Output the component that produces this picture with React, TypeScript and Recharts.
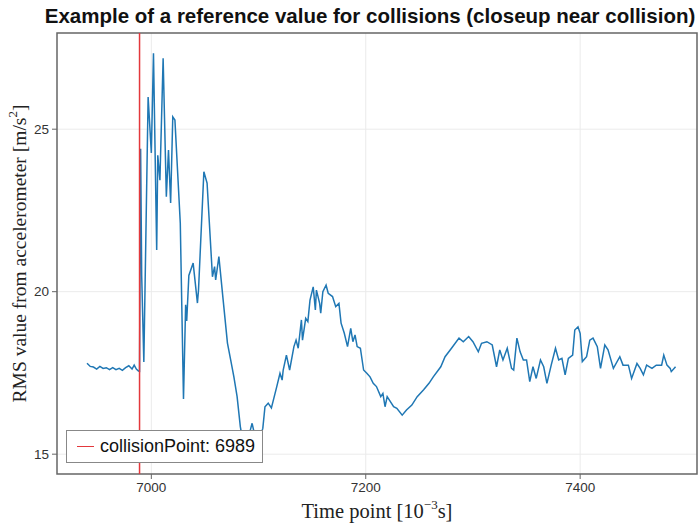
import React from 'react';
import { LineChart, Line, XAxis, YAxis, CartesianGrid, ReferenceLine, ReferenceArea, Label } from 'recharts';

const TITLE = 'Example of a reference value for collisions (closeup near collision)';
const COLLISION_POINT = 6989;

const X_DOMAIN: [number, number] = [6912, 7509];
const Y_DOMAIN: [number, number] = [14.39, 27.96];
const X_TICKS = [7000, 7200, 7400];
const Y_TICKS = [15, 20, 25];

// time points [ms]
const timePoints = [
  6940, 6943, 6946, 6949, 6952, 6955, 6958, 6961, 6964, 6967, 6970, 6973, 6976, 6979, 6982, 6984, 6986, 6988,
  6989, 6990, 6991, 6993, 6997, 7000, 7002, 7005, 7006, 7008, 7011, 7014, 7016, 7018, 7020, 7022, 7027, 7030,
  7032, 7033, 7035, 7039, 7043, 7044, 7049, 7052, 7057, 7059, 7060, 7063, 7067, 7071, 7074, 7077, 7080, 7083,
  7086, 7089, 7092, 7094, 7097, 7100, 7104, 7106, 7109, 7112, 7117, 7120, 7122, 7123, 7126, 7129, 7133, 7135,
  7137, 7140, 7141, 7144, 7146, 7148, 7151, 7153, 7154, 7157, 7158, 7160, 7163, 7165, 7169, 7172, 7175, 7177,
  7180, 7183, 7186, 7188, 7190, 7192, 7195, 7198, 7201, 7204, 7207, 7210, 7214, 7216, 7218, 7220, 7226, 7229,
  7234, 7238, 7243, 7248, 7254, 7259, 7263, 7270, 7274, 7280, 7287, 7291, 7296, 7300, 7305, 7308, 7313, 7318,
  7322, 7325, 7328, 7332, 7336, 7338, 7341, 7344, 7347, 7350, 7353, 7356, 7359, 7363, 7366, 7369, 7373, 7377,
  7380, 7383, 7386, 7389, 7393, 7395, 7398, 7400, 7402, 7406, 7409, 7412, 7416, 7419, 7423, 7426, 7431, 7437,
  7440, 7445, 7448, 7453, 7456, 7459, 7462, 7467, 7471, 7476, 7478, 7481, 7484, 7485, 7489,
];

// RMS value [m/s^2]
const rmsValues = [
  17.8, 17.7, 17.68, 17.62, 17.7, 17.64, 17.66, 17.6, 17.66, 17.6, 17.64, 17.58, 17.66, 17.72, 17.62, 17.74, 17.62, 17.56,
  17.55, 24.4, 20.5, 17.84, 25.99, 24.27, 27.34, 21.28, 24.2, 23.43, 27.18, 22.92, 24.36, 22.73, 25.38, 25.28, 22.11, 16.7,
  19.6, 19.1, 20.5, 20.88, 19.65, 20.05, 23.69, 23.34, 20.46, 20.77, 20.36, 21.08, 19.74, 18.42, 17.9, 17.38, 16.77, 15.85,
  15.3, 15.05, 15.7, 15.95, 15.5, 15.3, 15.8, 16.46, 16.57, 16.42, 17.08, 17.49, 17.28, 17.59, 18.05, 17.59, 18.31, 18.51,
  18.26, 19.13, 18.51, 19.18, 19.08, 19.74, 20.15, 19.44, 20.05, 19.64, 19.34, 20.0, 20.2, 19.95, 19.85, 19.54, 19.64, 19.03,
  18.72, 18.31, 18.87, 18.46, 18.67, 18.31, 18.26, 17.59, 17.49, 17.38, 17.18, 17.08, 16.77, 16.87, 16.46, 16.77, 16.46, 16.41,
  16.2, 16.36, 16.51, 16.77, 16.98, 17.18, 17.38, 17.69, 18.0, 18.26, 18.57, 18.46, 18.62, 18.46, 18.15, 18.41, 18.46, 18.36,
  17.69, 18.21, 17.9, 18.26, 17.64, 17.59, 18.57, 18.15, 17.9, 17.9, 17.23, 17.69, 17.33, 17.9, 17.69, 17.18, 17.74, 18.26,
  17.9, 17.95, 17.44, 17.95, 18.05, 18.82, 18.92, 18.72, 17.85, 18.0, 18.51, 18.57, 18.31, 17.64, 18.36, 18.21, 17.64, 18.0,
  17.74, 17.74, 17.33, 17.79, 17.64, 17.44, 17.74, 17.64, 17.74, 17.74, 18.05, 17.74, 17.64, 17.54, 17.69,
];

const data = timePoints.map((t, i) => ({ t, rms: rmsValues[i] }));

const SANS = '"Liberation Sans", Arial, Helvetica, sans-serif';
const SERIF = '"Liberation Serif", "Times New Roman", serif';
const FRAME = '#666';
const LINE_BLUE = '#1f77b4';
const RED = '#e3383c';

const YLabel = (props: any) => {
  const vb = props.viewBox;
  const cx = vb.x + 19;
  const cy = vb.y + vb.height / 2;
  return (
    <text x={cx} y={cy} transform={`rotate(-90 ${cx} ${cy})`} textAnchor="middle" dominantBaseline="central"
      fontFamily={SERIF} fontSize={19.5} fill="#222">
      RMS value from accelerometer [m/s<tspan dy={-7} fontSize={13}>2</tspan><tspan dy={7}>]</tspan>
    </text>
  );
};

const XLabel = (props: any) => {
  const vb = props.viewBox;
  const cx = vb.x + vb.width / 2;
  return (
    <text x={cx} y={vb.y + 37} textAnchor="middle" dominantBaseline="central" fontFamily={SERIF} fontSize={20.5} fill="#222">
      Time point [10<tspan dy={-7} fontSize={13}>−3</tspan><tspan dy={7}>s]</tspan>
    </text>
  );
};

const App: React.FC = () => {
  return (
    <div style={{ position: 'absolute', left: 0, top: 0, width: 700, height: 523, background: '#fff' }}>
      <div style={{ position: 'absolute', left: 40, top: 3, width: 660, textAlign: 'center', fontFamily: SANS,
        fontWeight: 'bold', fontSize: 20.5, lineHeight: '26px', color: '#111', whiteSpace: 'nowrap' }}>
        {TITLE}
      </div>
      <LineChart width={700} height={523} data={data} margin={{ top: 33, right: 3, bottom: 0, left: 0 }}>
        <CartesianGrid stroke="#ebebeb" strokeWidth={1} verticalValues={X_TICKS} horizontalValues={Y_TICKS} />
        <XAxis dataKey="t" type="number" domain={X_DOMAIN} ticks={X_TICKS} allowDataOverflow height={49}
          axisLine={false} tickLine={{ stroke: FRAME }} tickSize={5} tickMargin={3}
          tick={{ fontFamily: SANS, fontSize: 13.5, fill: '#333' }}>
          <Label content={XLabel} />
        </XAxis>
        <YAxis type="number" domain={Y_DOMAIN} ticks={Y_TICKS} allowDataOverflow width={57}
          axisLine={false} tickLine={{ stroke: FRAME }} tickSize={5} tickMargin={3}
          tick={{ fontFamily: SANS, fontSize: 13.5, fill: '#333' }}>
          <Label content={YLabel} />
        </YAxis>
        <Line type="linear" dataKey="rms" stroke={LINE_BLUE} strokeWidth={1.5} dot={false} isAnimationActive={false} />
        <ReferenceLine x={COLLISION_POINT} stroke={RED} strokeWidth={1.5} />
        <ReferenceArea x1={X_DOMAIN[0]} x2={X_DOMAIN[1]} y1={Y_DOMAIN[0]} y2={Y_DOMAIN[1]} fill="none"
          fillOpacity={0} stroke={FRAME} strokeWidth={1.5} ifOverflow="visible" />
      </LineChart>
      <div style={{ position: 'absolute', left: 66, top: 430, width: 197, height: 33, boxSizing: 'border-box',
        border: '1px solid #888', background: '#fff', display: 'flex', alignItems: 'center', fontFamily: SANS,
        fontSize: 18, color: '#111' }}>
        <span style={{ display: 'inline-block', width: 17, height: 0, borderTop: `1.5px solid ${RED}`, marginLeft: 10, marginRight: 6 }} />
        <span>collisionPoint: {COLLISION_POINT}</span>
      </div>
    </div>
  );
};

export default App;
